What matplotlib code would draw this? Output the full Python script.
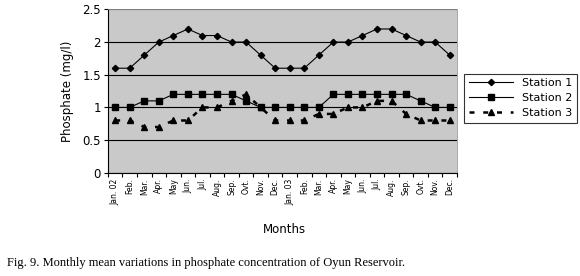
import matplotlib.pyplot as plt
import numpy as np

# month labels (two years)
months = ["Jan. 02", "Feb.", "Mar.", "Apr.", "May", "Jun.", "Jul.", "Aug.", "Sep.", "Ovt.", "Nov.", "Dec.",
          "Jan. 03", "Feb.", "Mar.", "Apr.", "May", "Jun.", "Jul.", "Aug.", "Sep.", "Ovt.", "Nov.", "Dec."]

station1 = [1.6, 1.6, 1.8, 2.0, 2.1, 2.2, 2.1, 2.1, 2.0, 2.0, 1.8, 1.6,
            1.6, 1.6, 1.8, 2.0, 2.0, 2.1, 2.2, 2.2, 2.1, 2.0, 2.0, 1.8]
station2 = [1.0, 1.0, 1.1, 1.1, 1.2, 1.2, 1.2, 1.2, 1.2, 1.1, 1.0, 1.0,
            1.0, 1.0, 1.0, 1.2, 1.2, 1.2, 1.2, 1.2, 1.2, 1.1, 1.0, 1.0]
station3 = [0.8, 0.8, 0.7, 0.7, 0.8, 0.8, 1.0, 1.0, 1.1, 1.2, 1.0, 0.8,
            0.8, 0.8, 0.9, 0.9, 1.0, 1.0, 1.1, 1.1, 0.9, 0.8, 0.8, 0.8]

x = np.arange(len(months))

fig = plt.figure(figsize=(5.8, 2.76), dpi=100)
ax = fig.add_axes([0.186, 0.374, 0.602, 0.592])
ax.set_facecolor("#c9c9c9")

ax.plot(x, station1, color="black", lw=0.8, marker="D", ms=3.2, label="Station 1")
ax.plot(x, station2, color="black", lw=0.8, marker="s", ms=4.2, label="Station 2")
ax.plot(x, station3, color="black", lw=1.8, ls=(0, (2, 3.5)), marker="^", ms=4.8, label="Station 3")

ax.set_xlim(-0.5, len(months) - 0.5)
ax.set_ylim(0, 2.5)
ax.set_yticks([0, 0.5, 1, 1.5, 2, 2.5])
ax.set_yticklabels(["0", "0.5", "1", "1.5", "2", "2.5"], fontsize=8.5)
ax.yaxis.grid(True, color="black", lw=0.8)
ax.set_axisbelow(True)

ax.set_xticks(x)
ax.set_xticklabels(months, rotation=90, fontsize=5.5)
ax.set_xticks(np.arange(-0.5, len(months)), minor=True)
ax.tick_params(axis="x", which="major", length=0, pad=4)
ax.tick_params(axis="x", which="minor", length=3, width=0.8)
ax.tick_params(axis="y", length=3, width=0.8, pad=2)

for s in ["top", "right"]:
    ax.spines[s].set_color("#9a9a9a")
    ax.spines[s].set_linewidth(0.6)
ax.spines["left"].set_linewidth(0.8)
ax.spines["bottom"].set_linewidth(0.8)

ax.set_ylabel("Phosphate (mg/l)", fontsize=8.5, labelpad=6)
fig.text(0.49, 0.167, "Months", fontsize=8.5, ha="center", va="center")

leg = ax.legend(loc="upper left", bbox_to_anchor=(1.005, 0.64), fontsize=8, frameon=True,
                fancybox=False, edgecolor="black", handlelength=4, borderpad=0.4, labelspacing=0.45)
leg.get_frame().set_linewidth(0.8)

fig.text(0.012, 0.047, "Fig. 9. Monthly mean variations in phosphate concentration of Oyun Reservoir.",
         fontsize=9, family="Liberation Serif", ha="left", va="center")

fig.savefig("out.png", dpi=100)
